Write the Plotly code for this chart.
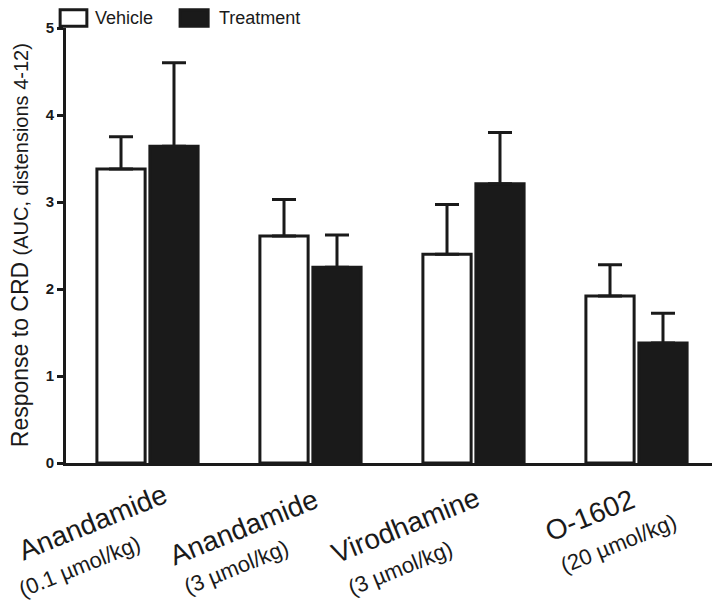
import plotly.graph_objects as go

# data
drugs = ["Anandamide", "Anandamide", "Virodhamine", "O-1602"]
doses = ["(0.1 µmol/kg)", "(3 µmol/kg)", "(3 µmol/kg)", "(20 µmol/kg)"]
vehicle_mean = [3.38, 2.61, 2.40, 1.92]
vehicle_sem = [0.37, 0.42, 0.57, 0.36]
treatment_mean = [3.64, 2.25, 3.21, 1.38]
treatment_sem = [0.96, 0.37, 0.59, 0.34]

cats = [f"{d} {s}" for d, s in zip(drugs, doses)]

FONT = "Liberation Sans, Arial, Helvetica, sans-serif"
INK = "#1a1a1a"

fig = go.Figure()
fig.add_trace(go.Bar(
    x=cats, y=vehicle_mean, name="Vehicle",
    marker=dict(color="white", line=dict(color=INK, width=3)),
    error_y=dict(type="data", symmetric=False, array=vehicle_sem,
                 arrayminus=[0] * 4, color=INK, thickness=3, width=12),
))
fig.add_trace(go.Bar(
    x=cats, y=treatment_mean, name="Treatment",
    marker=dict(color=INK, line=dict(color=INK, width=3)),
    error_y=dict(type="data", symmetric=False, array=treatment_sem,
                 arrayminus=[0] * 4, color=INK, thickness=3, width=12),
))

# page body has an 8px margin, so the figure is 8px smaller each way
fig.update_layout(
    width=712, height=595,
    margin=dict(l=58, r=2, t=20, b=140),
    plot_bgcolor="white", paper_bgcolor="white",
    barmode="group", bargap=0.35, bargroupgap=0.09,
    showlegend=False,
    font=dict(family=FONT, color=INK),
)
fig.update_xaxes(
    type="category", range=[-0.5, 3.5], showticklabels=False,
    showline=True, linecolor=INK, linewidth=3, ticks="", showgrid=False,
)
fig.update_yaxes(
    range=[0, 5], tickvals=[0, 1, 2, 3, 4, 5], showgrid=False, zeroline=False,
    showline=True, linecolor=INK, linewidth=3,
    ticks="outside", ticklen=6, tickwidth=2.5, tickcolor=INK,
    tickfont=dict(family=FONT, size=15, color=INK, weight="bold"),
)

# y-axis title, two sizes
fig.add_annotation(
    xref="paper", yref="paper", x=-0.071, y=0.5, textangle=-90,
    showarrow=False, xanchor="center", yanchor="middle",
    text="Response to CRD <span style='font-size:20px'>(AUC, distensions 4-12)</span>",
    font=dict(family=FONT, size=23, color=INK),
)

# rotated two-line category labels (pixel offsets from each category centre)
name_pos = [(-55, 522), (-67, 527), (-68, 525), (-47, 515)]
dose_pos = [(-68, 566), (-75, 567), (-74, 568), (-18, 543)]
PLOT_BOTTOM = 463
for c, d, s, (nx, ny), (dx, dy) in zip(cats, drugs, doses, name_pos, dose_pos):
    fig.add_annotation(
        x=c, xref="x", y=0, yref="paper", xshift=nx, yshift=PLOT_BOTTOM - ny,
        text=d, textangle=-22, showarrow=False, xanchor="center", yanchor="middle",
        font=dict(family=FONT, size=28, color=INK),
    )
    fig.add_annotation(
        x=c, xref="x", y=0, yref="paper", xshift=dx, yshift=PLOT_BOTTOM - dy,
        text=s, textangle=-22, showarrow=False, xanchor="center", yanchor="middle",
        font=dict(family=FONT, size=22, color=INK),
    )

# legend drawn by hand to get the large swatches
fig.add_shape(type="rect", xref="paper", yref="paper",
              x0=-0.009, x1=0.032, y0=1.004, y1=1.042,
              line=dict(color=INK, width=3), fillcolor="white")
fig.add_shape(type="rect", xref="paper", yref="paper",
              x0=0.175, x1=0.218, y0=1.004, y1=1.042,
              line=dict(color=INK, width=3), fillcolor=INK)
fig.add_annotation(xref="paper", yref="paper", x=0.041, y=1.024,
                   text="Vehicle", showarrow=False, xanchor="left", yanchor="middle",
                   font=dict(family=FONT, size=18, color=INK))
fig.add_annotation(xref="paper", yref="paper", x=0.232, y=1.024,
                   text="Treatment", showarrow=False, xanchor="left", yanchor="middle",
                   font=dict(family=FONT, size=18, color=INK))

fig.write_html("out.html")
